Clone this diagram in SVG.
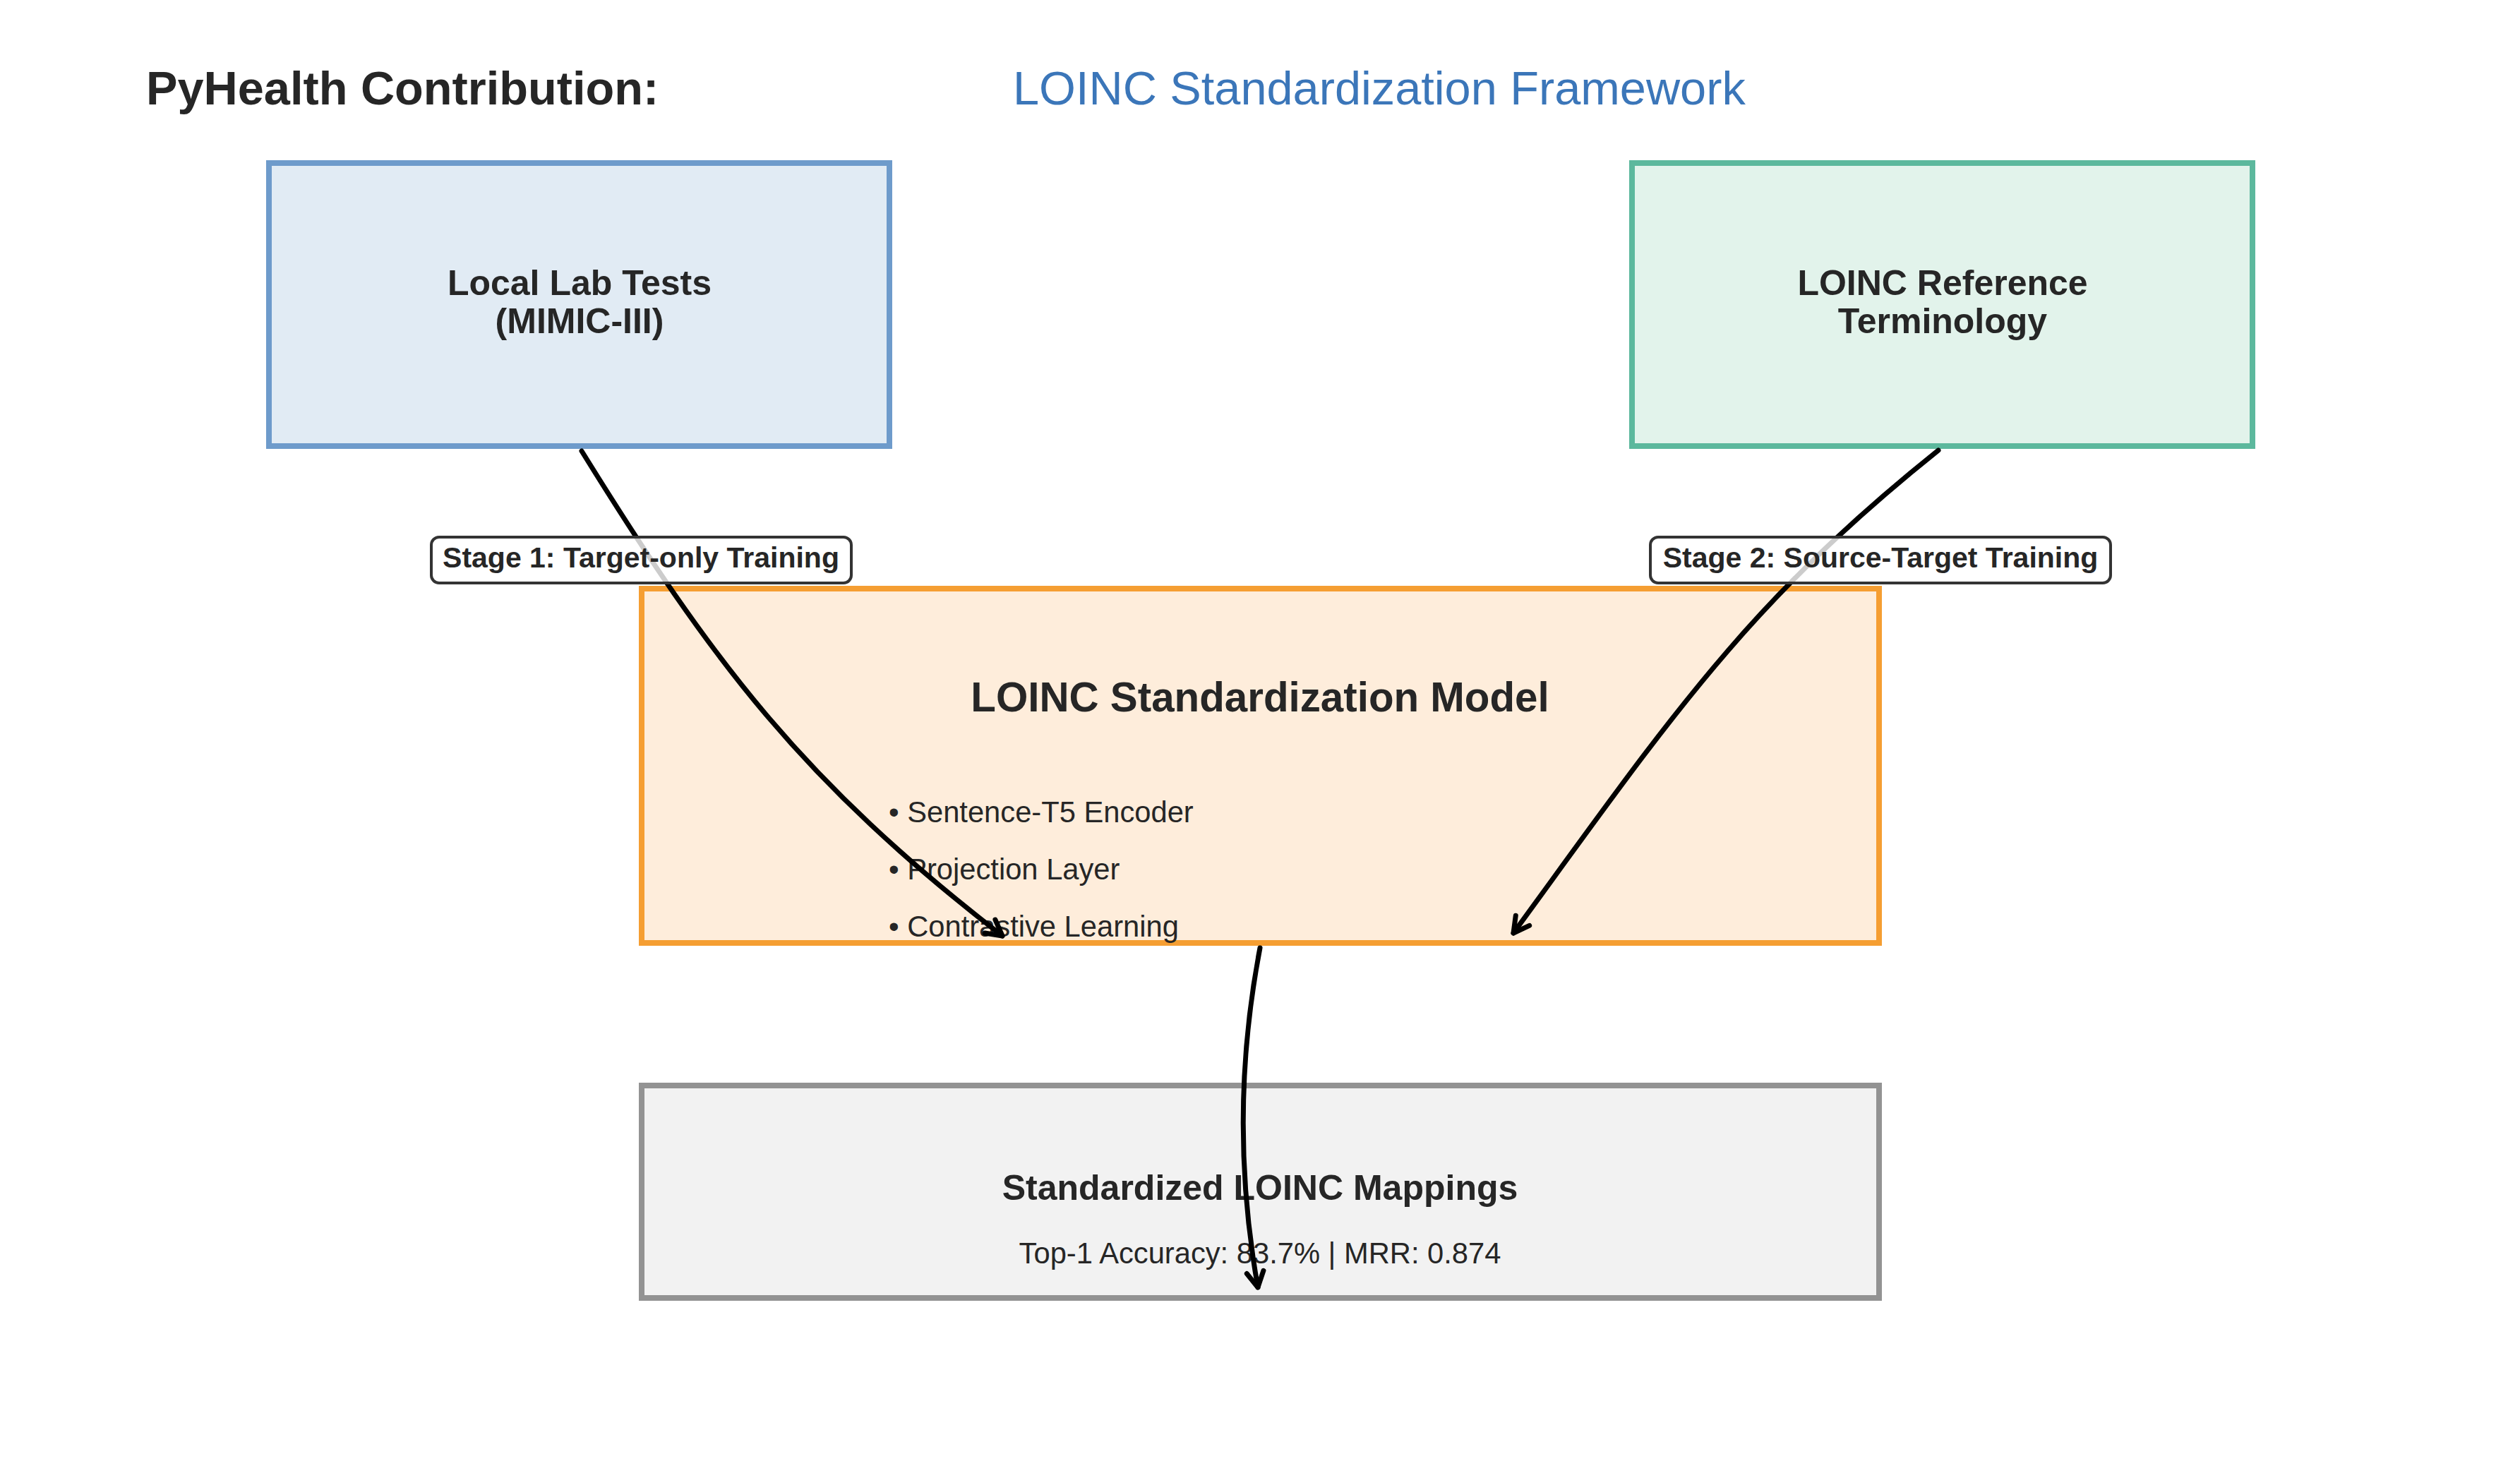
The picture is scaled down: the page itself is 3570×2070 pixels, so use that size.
<svg xmlns="http://www.w3.org/2000/svg" width="3570" height="2070" viewBox="0 0 3570 2070">
<style>
  text { font-family: "Liberation Sans", Arial, Helvetica, sans-serif; fill: #262626; }
  .b { font-weight: bold; }
  .box { stroke-width: 8; }
  .lbl { font-size: 50px; font-weight: bold; text-anchor: middle; }
  .small { font-size: 41.7px; }
  .edge { fill: none; stroke: #000; stroke-width: 7; stroke-linecap: round; }
  .tag rect { fill: #fff; fill-opacity: 0.8; stroke: #333; stroke-width: 4; }
  .tag text { font-size: 41px; font-weight: bold; text-anchor: middle; }
</style>
<defs>
  <marker id="arr" markerUnits="userSpaceOnUse" viewBox="-30 -20 40 40" refX="0" refY="0" markerWidth="40" markerHeight="40" orient="auto" overflow="visible">
    <path d="M -22 -12 L 0 0 L -22 12" fill="none" stroke="#000" stroke-width="7" stroke-linejoin="round" stroke-linecap="round"/>
  </marker>
</defs>
<rect width="3570" height="2070" fill="#fff"/>
<g id="title">
  <text x="207" y="148" class="b" style="font-size:66.7px">PyHealth Contribution:</text>
  <text x="1435" y="148" style="font-size:66.7px;fill:#3b76b9">LOINC Standardization Framework</text>
</g>
<g id="node-local">
  <rect class="box" x="381" y="231" width="879" height="401" fill="#e1ebf4" stroke="#6e9bcb"/>
  <text class="lbl" x="821" y="418">Local Lab Tests</text>
  <text class="lbl" x="821" y="472">(MIMIC-III)</text>
</g>
<g id="node-loinc-ref">
  <rect class="box" x="2312" y="231" width="879" height="401" fill="#e2f3eb" stroke="#5cb89d"/>
  <text class="lbl" x="2752" y="418">LOINC Reference</text>
  <text class="lbl" x="2752" y="472">Terminology</text>
</g>
<g id="node-model">
  <rect class="box" x="909" y="834" width="1753" height="502" fill="#feeddb" stroke="#f59e32"/>
  <text x="1785" y="1008" class="b" style="font-size:58.3px" text-anchor="middle">LOINC Standardization Model</text>
  <text class="small" x="1259" y="1165">• Sentence-T5 Encoder</text>
  <text class="small" x="1259" y="1246">• Projection Layer</text>
  <text class="small" x="1259" y="1327">• Contrastive Learning</text>
</g>
<g id="node-output">
  <rect class="box" x="909" y="1538" width="1753" height="301" fill="#f2f2f2" stroke="#939393"/>
  <text class="lbl" x="1785" y="1700">Standardized LOINC Mappings</text>
  <text class="small" x="1785" y="1790" text-anchor="middle">Top-1 Accuracy: 83.7% | MRR: 0.874</text>
</g>
<g id="connectors">
  <path class="edge" d="M 824 639 C 1010 939 1136 1106 1420 1326" marker-end="url(#arr)"/>
  <path class="edge" d="M 2746 638 C 2471 858 2363 1022 2144 1322" marker-end="url(#arr)"/>
  <path class="edge" d="M 1785 1343 Q 1739 1583 1782 1824" marker-end="url(#arr)"/>
  <g class="tag" id="label-stage1">
    <rect x="611" y="761" width="595" height="65" rx="11"/>
    <text x="908" y="804">Stage 1: Target-only Training</text>
  </g>
  <g class="tag" id="label-stage2">
    <rect x="2338" y="761" width="652" height="65" rx="11"/>
    <text x="2664" y="804">Stage 2: Source-Target Training</text>
  </g>
</g>
</svg>
